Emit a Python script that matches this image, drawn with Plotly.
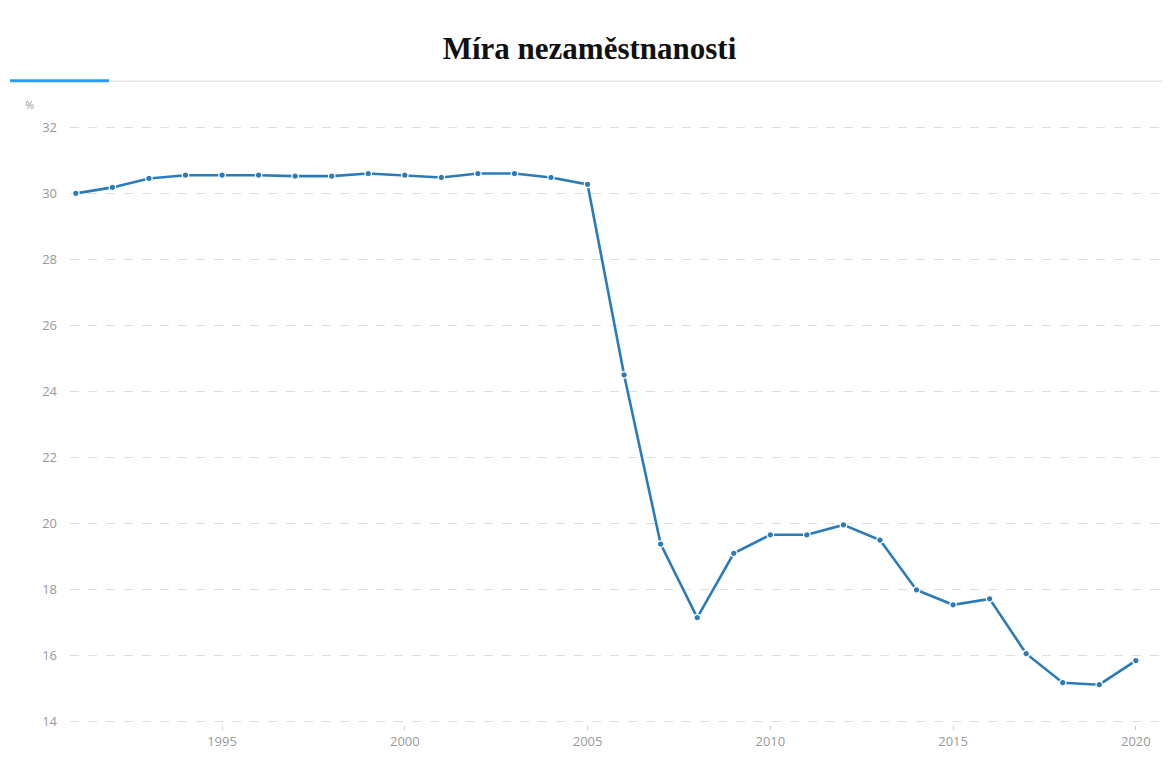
import plotly.graph_objects as go

years = list(range(1991, 2021))
unemployment = [
    30.0, 30.18, 30.45, 30.55, 30.55, 30.55, 30.52, 30.52, 30.6, 30.55,
    30.48, 30.6, 30.6, 30.48, 30.27, 24.5, 19.38, 17.15, 19.1, 19.66,
    19.66, 19.96, 19.5, 17.99, 17.54, 17.72, 16.06, 15.18, 15.12, 15.85,
]
y_ticks = [14, 16, 18, 20, 22, 24, 26, 28, 30, 32]
x_ticks = [1995, 2000, 2005, 2010, 2015, 2020]

# the page body adds an 8px margin, so the figure is drawn 8px smaller
OFF = 8
W, H = 1171 - OFF, 758 - OFF
ml, mr, mt, mb = 70 - OFF, 3, 123.7 - OFF, 32.7


def px_x(p):
    return (p - OFF - ml) / (W - ml - mr)


def px_y(p):
    return 1 - (p - OFF - mt) / (H - mt - mb)


fig = go.Figure()
fig.add_trace(go.Scatter(
    x=years, y=unemployment, mode="lines+markers",
    line=dict(color="#2b7bba", width=2.6),
    marker=dict(size=6.5, color="#2b7bba", line=dict(color="white", width=1.2)),
    cliponaxis=False, showlegend=False,
))

fig.update_layout(
    width=W, height=H,
    margin=dict(l=ml, r=mr, t=mt, b=mb),
    plot_bgcolor="white", paper_bgcolor="white",
    font=dict(family="Open Sans", color="#999999", size=13),
    title=dict(
        text="<b>Míra nezaměstnanosti</b>",
        font=dict(family="Liberation Serif", size=31, color="#111111"),
        x=0.5, xanchor="center", y=1 - (48 - OFF) / H, yanchor="middle",
    ),
    xaxis=dict(
        range=[1990.84, 2020.88], tickvals=x_ticks, showgrid=False,
        zeroline=False, showline=False, ticks="outside", ticklen=4,
        tickcolor="#cccccc", tickwidth=1, tickfont=dict(size=13, color="#999999"),
    ),
    yaxis=dict(
        range=[13.9, 32.1], tickvals=y_ticks, showgrid=True,
        gridcolor="#dedede", griddash="dash", gridwidth=1,
        zeroline=False, showline=False, ticklabelstandoff=12,
        tickfont=dict(size=13, color="#999999"),
    ),
    shapes=[
        dict(type="line", xref="paper", yref="paper",
             x0=px_x(10), x1=px_x(1171), y0=px_y(81), y1=px_y(81),
             line=dict(color="#e4e9ee", width=1.5)),
        dict(type="line", xref="paper", yref="paper",
             x0=px_x(10), x1=px_x(109), y0=px_y(80.5), y1=px_y(80.5),
             line=dict(color="#2a9df4", width=3)),
    ],
    annotations=[
        dict(text="%", xref="paper", yref="paper", x=px_x(30), y=px_y(104),
             xanchor="center", yanchor="middle",
             showarrow=False, font=dict(size=11, color="#999999")),
    ],
)

fig.write_html("out.html")
